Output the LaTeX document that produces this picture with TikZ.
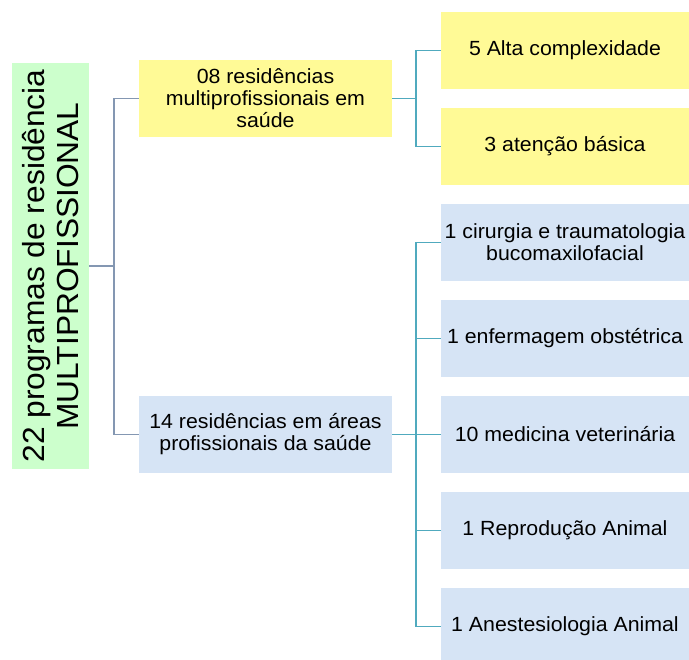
\documentclass[tikz,border=0pt]{standalone}
\usepackage{fontspec}
\setmainfont[FakeStretch=1.04]{Liberation Sans}
\usepackage{tikz}
\usepackage{xcolor}
\definecolor{rootgreen}{RGB}{204,255,204}
\definecolor{boxyellow}{RGB}{255,250,150}
\definecolor{boxblue}{RGB}{214,228,245}
\definecolor{linegray}{RGB}{132,151,178}
\definecolor{lineteal}{RGB}{80,170,190}

\tikzset{
    rootbox/.style={fill=rootgreen, minimum width=406pt, minimum height=77pt, rotate=90,
        align=center, inner sep=0pt, font=\fontsize{30.5}{34}\selectfont},
    midbox/.style={minimum width=253pt, minimum height=77pt, align=center, inner sep=0pt,
        font=\fontsize{20.5}{22}\selectfont},
    leafbox/.style={minimum width=248pt, minimum height=77pt, align=center, inner sep=0pt,
        font=\fontsize{20.5}{22}\selectfont},
    linkgray/.style={draw=linegray, line width=1.4pt},
    linkteal/.style={draw=lineteal, line width=1.4pt}
}

\begin{document}
\begin{tikzpicture}[x=1pt, y=-1pt]
                \clip (0,0) rectangle (689,660);
                \node[rootbox] (root) at (50.5,266) {22 programas de residência\\MULTIPROFISSIONAL};
                \node[midbox, fill=boxyellow] (multi) at (265.5,98.5) {08 residências\\multiprofissionais em\\saúde};
                \node[midbox, fill=boxblue] (areas) at (265.5,434.5) {14 residências em áreas\\profissionais da saúde};
                \node[leafbox, fill=boxyellow] (alta) at (565,50.5) {5 Alta complexidade};
                \node[leafbox, fill=boxyellow] (basica) at (565,146.5) {3 atenção básica};
                \node[leafbox, fill=boxblue] (cirurgia) at (565,242.5) {1 cirurgia e traumatologia\\bucomaxilofacial};
                \node[leafbox, fill=boxblue] (enferm) at (565,338.5) {1 enfermagem obstétrica};
                \node[leafbox, fill=boxblue] (vet) at (565,434.5) {10 medicina veterinária};
                \node[leafbox, fill=boxblue] (reprod) at (565,530.5) {1 Reprodução Animal};
                \node[leafbox, fill=boxblue] (anest) at (565,626.5) {1 Anestesiologia Animal};
                \coordinate (jroot) at (114,266);
                \coordinate (jmulti) at (416,98.5);
                \coordinate (jareas) at (416,434.5);
                \draw[linkgray] (root.south) -- (jroot);
                \draw[linkgray] (multi.west) -| (jroot);
                \draw[linkgray] (areas.west) -| (jroot);
                \draw[linkteal] (multi.east) -- (jmulti);
                \draw[linkteal] (alta.west) -| (jmulti);
                \draw[linkteal] (basica.west) -| (jmulti);
                \draw[linkteal] (areas.east) -- (jareas);
                \draw[linkteal] (cirurgia.west) -| (jareas);
                \draw[linkteal] (enferm.west) -| (jareas);
                \draw[linkteal] (vet.west) -- (jareas);
                \draw[linkteal] (reprod.west) -| (jareas);
                \draw[linkteal] (anest.west) -| (jareas);
            \end{tikzpicture}
\end{document}
